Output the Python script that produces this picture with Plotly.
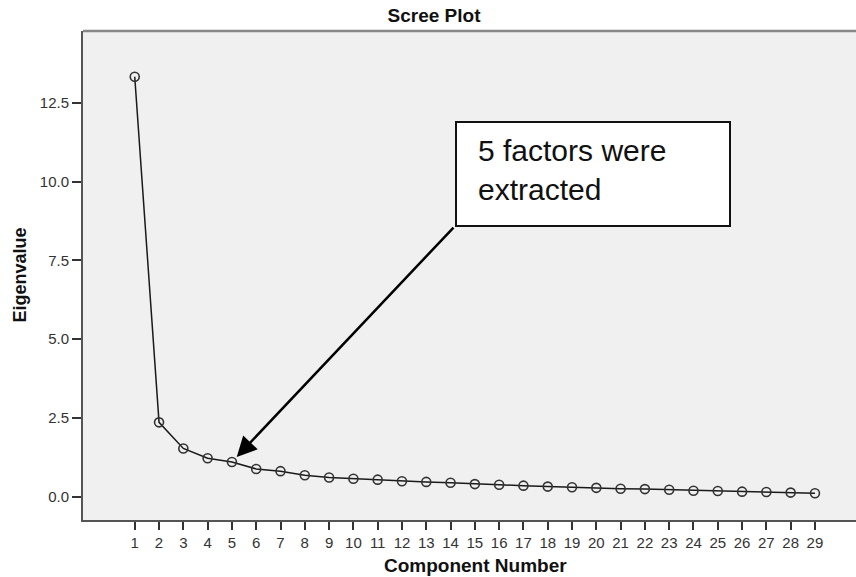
import plotly.graph_objects as go

components = list(range(1, 30))
eigenvalues = [13.33, 2.36, 1.53, 1.22, 1.10, 0.88, 0.81, 0.68, 0.61, 0.57,
               0.54, 0.49, 0.47, 0.44, 0.40, 0.38, 0.35, 0.32, 0.30, 0.28,
               0.25, 0.24, 0.22, 0.19, 0.18, 0.16, 0.15, 0.13, 0.11]
y_ticks = [0.0, 2.5, 5.0, 7.5, 10.0, 12.5]
title_text = "Scree Plot"
x_title = "Component Number"
y_title = "Eigenvalue"
note_text = "5 factors were<br>extracted"
note_component = 5

FONT = "Arial, Liberation Sans, sans-serif"

fig = go.Figure()
fig.add_trace(go.Scatter(
    x=components, y=eigenvalues, mode="lines+markers",
    line=dict(color="#1a1a1a", width=1.5),
    marker=dict(symbol="circle-open", size=9, color="#333333",
                line=dict(width=1.6, color="#333333")),
    showlegend=False, hoverinfo="x+y",
))

W, H = 856, 577
L, R, T, B = 83, 0, 31, 57

fig.update_layout(
    width=W, height=H,
    margin=dict(l=L, r=R, t=T, b=B, pad=0),
    paper_bgcolor="white", plot_bgcolor="#f0f0f0",
    font=dict(family=FONT, color="#333333"),
    title=dict(text="<b>" + title_text + "</b>", x=434 / W, xanchor="center",
               y=1 - 15 / H, yanchor="middle",
               font=dict(size=19, family=FONT, color="#111111")),
    xaxis=dict(range=[-1.13, 30.69], tickvals=components,
               ticks="outside", ticklen=8, tickwidth=2, tickcolor="#333333",
               tickfont=dict(size=15, family=FONT, color="#333333"),
               showgrid=False, zeroline=False,
               showline=True, linecolor="#555555", linewidth=2, mirror=False),
    yaxis=dict(range=[-0.74, 14.78], tickvals=y_ticks, tickformat=".1f",
               ticks="outside", ticklen=9, tickwidth=2, tickcolor="#333333",
               tickfont=dict(size=15, family=FONT, color="#333333"),
               showgrid=False, zeroline=False,
               showline=True, linecolor="#555555", linewidth=2, mirror=False),
)

# top border line of plot area
fig.add_shape(type="line", xref="paper", yref="paper", x0=0, x1=1, y0=1, y1=1,
              line=dict(color="#888888", width=2.5))

# axis titles
fig.add_annotation(text="<b>" + y_title + "</b>", xref="paper", yref="paper",
                   x=0, y=0.5, xanchor="center", yanchor="middle",
                   xshift=19 - L, textangle=-90, showarrow=False,
                   font=dict(size=18, family=FONT, color="#111111"))
fig.add_annotation(text="<b>" + x_title + "</b>", xref="paper", yref="paper",
                   x=0.5, y=0, xanchor="center", yanchor="middle",
                   xshift=6, yshift=-45, showarrow=False,
                   font=dict(size=19, family=FONT, color="#111111"))

# callout box
pw = W - L - R
ph = H - T - B
bx0, bx1, by0, by1 = 456, 730, 122, 226
fig.add_shape(type="rect", xref="paper", yref="paper",
              x0=(bx0 - L) / pw, x1=(bx1 - L) / pw,
              y0=(H - B - by1) / ph, y1=(H - B - by0) / ph,
              fillcolor="white", line=dict(color="#111111", width=2))
fig.add_annotation(text=note_text, xref="paper", yref="paper",
                   x=(476 - L) / pw, y=(H - B - 170) / ph,
                   xanchor="left", yanchor="middle", align="left",
                   showarrow=False,
                   font=dict(size=30, family=FONT, color="#111111"))

# arrow pointing to component 5
fig.add_annotation(x=note_component, y=eigenvalues[note_component - 1],
                   xref="x", yref="y", text="", showarrow=True,
                   ax=223, ay=-236, axref="pixel", ayref="pixel",
                   arrowhead=2, arrowsize=1.6, arrowwidth=2.5,
                   arrowcolor="#000000", standoff=7)

fig.write_html(
    "out.html",
    config={"displayModeBar": False},
    post_script="document.documentElement.style.margin='0';"
                "document.body.style.margin='0';"
                "document.body.style.overflow='hidden';",
)
